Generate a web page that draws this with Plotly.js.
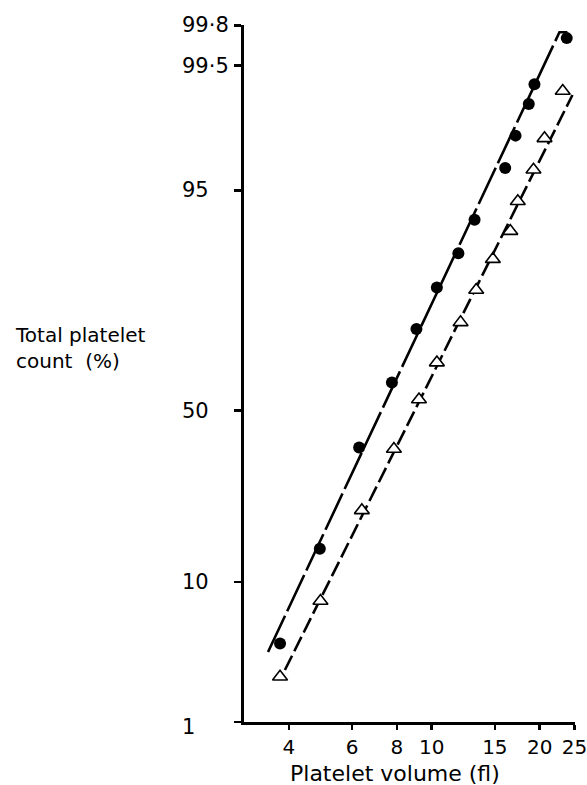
<!DOCTYPE html>
<html>
<head>
<meta charset="utf-8">
<script src="https://cdn.plot.ly/plotly-3.0.1.min.js"></script>
<style>html,body{margin:0;padding:0;background:#fff;}#chart{width:587px;height:785px;}</style>
</head>
<body>
<div id="chart"></div>
<script>
// Data (platelet volume in fl, cumulative % of total platelet count)
const circleVolume = [3.78, 4.88, 6.28, 7.75, 9.07, 10.34, 11.87, 13.17, 16.03, 17.13, 18.65, 19.34, 23.79];
const circlePct    = [4.1, 15.1, 39.1, 58.3, 72.9, 82.1, 88.0, 92.3, 96.5, 98.0, 98.9, 99.26, 99.73];
const triVolume    = [3.78, 4.90, 6.39, 7.85, 9.22, 10.34, 12.04, 13.31, 14.81, 16.56, 17.38, 19.22, 20.63, 23.19];
const triPct       = [2.34, 7.74, 22.8, 38.7, 53.3, 64.0, 74.5, 81.6, 87.1, 91.0, 94.1, 96.4, 97.9, 99.15];
const circleFitVolume = [3.50, 22.70, 23.89];
const circleFitPct    = [3.57, 99.764, 99.764];
const triFitVolume    = [3.90, 24.68];
const triFitPct       = [2.63, 99.08];
const xTickVals  = [4, 6, 8, 10, 15, 20, 25];
const xTickText  = ["4", "6", "8", "10", "15", "20", "25"];
const yTickVals  = [1, 10, 50, 95, 99.5, 99.8];
const yTickText  = ["1", "10", "50", "95", "99·5", "99·8"];

// probability (normal) scale: inverse normal CDF (Acklam)
function probit(pct) {
  const p = pct / 100;
  const a=[-3.969683028665376e+01,2.209460984245205e+02,-2.759285104469687e+02,1.383577518672690e+02,-3.066479806614716e+01,2.506628277459239e+00];
  const b=[-5.447609879822406e+01,1.615858368580409e+02,-1.556989798598866e+02,6.680131188771972e+01,-1.328068155288572e+01];
  const c=[-7.784894002430293e-03,-3.223964580411365e-01,-2.400758277161838e+00,-2.549732539343734e+00,4.374664141464968e+00,2.938163982698783e+00];
  const d=[7.784695709041462e-03,3.224671290700398e-01,2.445134137142996e+00,3.754408661907416e+00];
  const pl = 0.02425, ph = 1 - pl;
  let q, r;
  if (p < pl) { q = Math.sqrt(-2*Math.log(p)); return (((((c[0]*q+c[1])*q+c[2])*q+c[3])*q+c[4])*q+c[5])/((((d[0]*q+d[1])*q+d[2])*q+d[3])*q+1); }
  if (p <= ph) { q = p - 0.5; r = q*q; return (((((a[0]*r+a[1])*r+a[2])*r+a[3])*r+a[4])*r+a[5])*q/(((((b[0]*r+b[1])*r+b[2])*r+b[3])*r+b[4])*r+1); }
  q = Math.sqrt(-2*Math.log(1-p)); return -(((((c[0]*q+c[1])*q+c[2])*q+c[3])*q+c[4])*q+c[5])/((((d[0]*q+d[1])*q+d[2])*q+d[3])*q+1);
}
const P = arr => arr.map(probit);

const FONT = "DejaVu Sans, Liberation Sans, sans-serif";

const traces = [
  { x: circleFitVolume, y: P(circleFitPct), mode: "lines", line: {color: "#000", width: 2.6, dash: "40px,5px"}, hoverinfo: "skip" },
  { x: triFitVolume, y: P(triFitPct), mode: "lines", line: {color: "#000", width: 2.6, dash: "16px,5px"}, hoverinfo: "skip" },
  { x: circleVolume, y: P(circlePct), mode: "markers", marker: {symbol: "circle", size: 12, color: "#000"} },
  { x: triVolume, y: P(triPct), mode: "markers", marker: {symbol: "triangle-up", size: 13, color: "#fff", line: {color: "#000", width: 1.6}} }
];

const L = 244, R = 12, T = 25, B = 63;
const plotW = 587 - L - R;
const annotations = yTickVals.map((v, i) => ({
  xref: "paper", yref: "y", x: (180 - L) / plotW, y: probit(v),
  xanchor: "left", yanchor: "middle", showarrow: false,
  text: yTickText[i], yshift: v === 1 ? -5 : 0,
  font: {family: FONT, size: 21, color: "#000"}
}));
annotations.push({
  xref: "paper", yref: "paper", x: (13 - L) / plotW, y: (722 - 348) / 697,
  xanchor: "left", yanchor: "middle", align: "left", showarrow: false,
  text: "Total platelet<br>count\u00a0\u00a0(%)",
  font: {family: FONT, size: 20, color: "#000"}
});
annotations.push({
  xref: "paper", yref: "paper", x: (395 - L) / plotW, y: -(773 - 722) / 697,
  xanchor: "center", yanchor: "middle", showarrow: false,
  text: "Platelet volume (fl)",
  font: {family: FONT, size: 22, color: "#000"}
});

const layout = {
  width: 587, height: 785,
  margin: {l: L, r: R, t: T, b: B},
  paper_bgcolor: "#fff", plot_bgcolor: "#fff",
  showlegend: false,
  font: {family: FONT, color: "#000"},
  xaxis: {
    type: "log", range: [Math.log10(3), Math.log10(25) + 0.0015],
    tickvals: xTickVals, ticktext: xTickText,
    ticks: "outside", ticklen: 5, tickwidth: 2.5, tickcolor: "#000",
    ticklabeloverflow: "allow",
    showline: true, linewidth: 2.6, linecolor: "#000",
    showgrid: false, zeroline: false,
    tickfont: {family: FONT, size: 20, color: "#000"}
  },
  yaxis: {
    type: "linear", range: [probit(1), probit(99.8) + 0.002],
    tickvals: P(yTickVals), ticktext: yTickText, showticklabels: false,
    ticks: "outside", ticklen: 7, tickwidth: 2.5, tickcolor: "#000",
    showline: true, linewidth: 2.6, linecolor: "#000",
    showgrid: false, zeroline: false
  },
  annotations: annotations
};

Plotly.newPlot("chart", traces, layout, {displayModeBar: false, staticPlot: true});
</script>
</body>
</html>
